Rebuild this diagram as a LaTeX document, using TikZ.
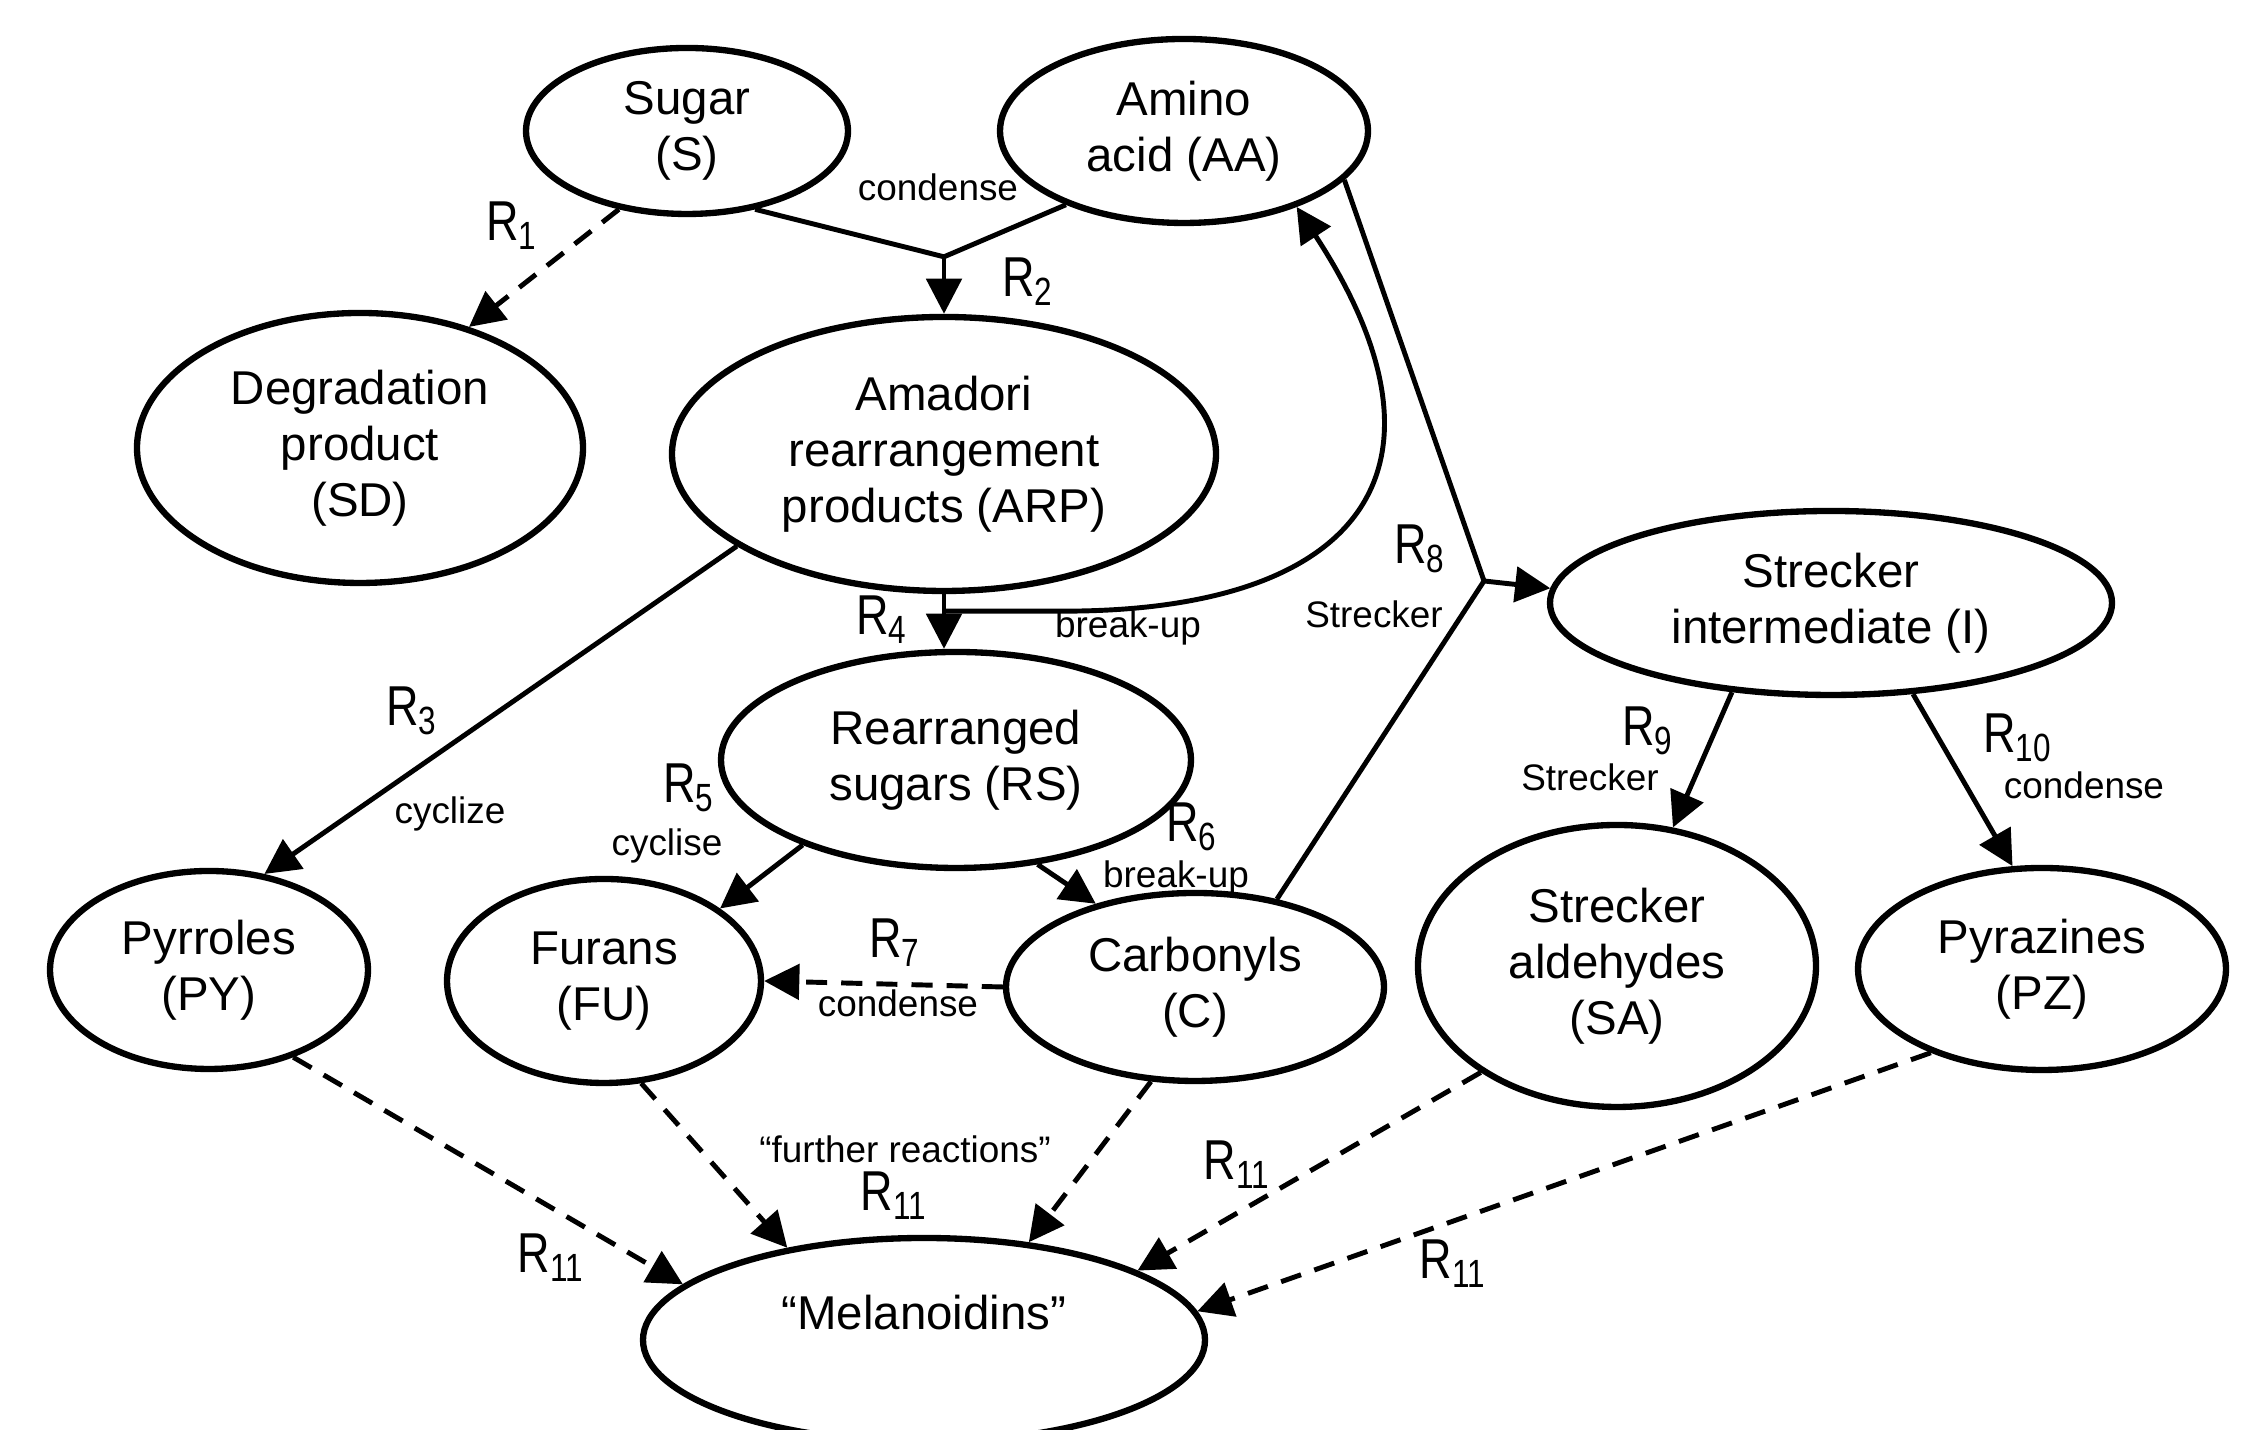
\documentclass[tikz,border=0pt]{standalone}
\usepackage{fontspec}
\setmainfont{Liberation Sans}
\newfontfamily\rfont[FakeStretch=0.8]{Liberation Sans}
\usepackage{tikz}
\usetikzlibrary{calc}
\usetikzlibrary{shapes.geometric}
\usetikzlibrary{arrows.meta,positioning}

\newcommand{\rxn}[1]{R\textsubscript{#1}}

\begin{document}
\begin{tikzpicture}[
  species/.style={ellipse,draw=black,line width=1.8pt,inner sep=0pt,align=center,font=\fontsize{13.5}{16}\selectfont},
  link/.style={line width=1.4pt},
  reac/.style={link,arrows=-{Triangle[length=10pt,width=10pt]}},
  reacd/.style={reac,dash pattern=on 6pt off 4pt},
  rlab/.style={font=\fontsize{16}{18}\rfont},
  notelab/.style={font=\fontsize{10.5}{12}\selectfont}
]

\coordinate (ORIGIN) at (0,0);
\useasboundingbox (ORIGIN) rectangle ++(22.6,14.3);
\clip (ORIGIN) rectangle ++(22.6,14.3);

%%%%%%%%%%%%%%%%%%%%%

%draw species
\node[species,minimum width=3.22cm,minimum height=1.66cm] at ($(ORIGIN)+(6.87,12.99)$) (SUGAR) {Sugar\\(S)};
\node[species,minimum width=3.68cm,minimum height=1.84cm] at ($(ORIGIN)+(11.84,12.99)$) (AMINO) {Amino\\acid (AA)};
\node[species,minimum width=4.46cm,minimum height=2.70cm] at ($(ORIGIN)+(3.60,9.82)$) (SD) {Degradation\\product\\(SD)};
\node[species,minimum width=5.44cm,minimum height=2.74cm] at ($(ORIGIN)+(9.44,9.76)$) (ARP) {Amadori\\rearrangement\\products (ARP)};
\node[species,minimum width=5.62cm,minimum height=1.84cm] at ($(ORIGIN)+(18.31,8.27)$) (INT) {Strecker\\intermediate (I)};
\node[species,minimum width=4.70cm,minimum height=2.16cm] at ($(ORIGIN)+(9.56,6.70)$) (RS) {Rearranged\\sugars (RS)};

%%%%%%%

%draw products
\node[species,minimum width=3.18cm,minimum height=1.98cm] at ($(ORIGIN)+(2.09,4.60)$) (PY) {Pyrroles\\(PY)};
\node[species,minimum width=3.14cm,minimum height=2.04cm] at ($(ORIGIN)+(6.04,4.49)$) (FU) {Furans\\(FU)};
\node[species,minimum width=3.78cm,minimum height=1.88cm] at ($(ORIGIN)+(11.95,4.43)$) (CARB) {Carbonyls\\(C)};
\node[species,minimum width=3.98cm,minimum height=2.82cm] at ($(ORIGIN)+(16.17,4.64)$) (SA) {Strecker\\aldehydes\\(SA)};
\node[species,minimum width=3.68cm,minimum height=2.02cm] at ($(ORIGIN)+(20.42,4.61)$) (PZ) {Pyrazines\\(PZ)};

\node[species,minimum width=5.62cm,minimum height=2.04cm] at ($(ORIGIN)+(9.24,0.90)$) (MEL) {};
\node[font=\fontsize{13.5}{16}\selectfont] at ($(MEL)+(0,0.27)$) (MELTXT) {“Melanoidins”};

%%%%%%%%%%%%%%%%%%%
%draw reactions

%R1
\draw[reacd] (SUGAR.229) -- (SD.48);
\node[rlab] at ($(ORIGIN)+(5.12,12.04)$) (LR1) {\rxn{1}};

%R2 sugar + amino acid
\coordinate (JR2) at ($(ARP.north)+(0,0.57)$);
\draw[link] (SUGAR.311) -- (JR2);
\draw[link] (AMINO.212) -- (JR2);
\draw[reac] (JR2) -- (ARP.north);
\node[notelab] at ($(ORIGIN)+(9.38,12.43)$) (CR2) {condense};
\node[rlab] at ($(ORIGIN)+(10.28,11.48)$) (LR2) {\rxn{2}};

%R3
\draw[reac] (ARP.204) -- (PY.60);
\node[rlab] at ($(ORIGIN)+(4.12,7.19)$) (LR3) {\rxn{3}};
\node[notelab] at ($(ORIGIN)+(4.50,6.16)$) (CR3) {cyclize};

%R4 and break-up back to amino acid
\draw[reac] (ARP.south) -- (ARP.south |- RS.north);
\coordinate (BRK) at ($(ARP.south)+(0,-0.17)$);
\coordinate (BRKA) at ($(BRK)+(1.2,0)$);
\draw[reac] (BRK) -- (BRKA) .. controls +(3.0,0) and +(1.7,-2.6) .. (AMINO.326);
\node[rlab] at ($(ORIGIN)+(8.82,8.10)$) (LR4) {\rxn{4}};
\node[notelab] at ($(ORIGIN)+(11.28,8.02)$) (CR4) {break-up};

%R5
\draw[reac] (RS.209) -- (FU.32);
\node[rlab] at ($(ORIGIN)+(6.89,6.42)$) (LR5) {\rxn{5}};
\node[notelab] at ($(ORIGIN)+(6.67,5.84)$) (CR5) {cyclise};

%R6
\draw[reac] (RS.308) -- (CARB.140);
\node[rlab] at ($(ORIGIN)+(11.92,6.03)$) (LR6) {\rxn{6}};
\node[notelab] at ($(ORIGIN)+(11.76,5.52)$) (CR6) {break-up};

%R7
\draw[reacd] (CARB.west) -- (FU.east);
\node[rlab] at ($(ORIGIN)+(8.95,4.87)$) (LR7) {\rxn{7}};
\node[notelab] at ($(ORIGIN)+(8.98,4.27)$) (CR7) {condense};

%R8 amino acid + carbonyls
\coordinate (JR8) at ($(ORIGIN)+(14.84,8.49)$);
\draw[link] (AMINO.343) -- (JR8);
\draw[link] (CARB.47) -- (JR8);
\draw[reac] (JR8) -- (INT.177);
\node[rlab] at ($(ORIGIN)+(14.20,8.81)$) (LR8) {\rxn{8}};
\node[notelab] at ($(ORIGIN)+(13.74,8.16)$) (CR8) {Strecker};

%R9
\draw[reac] (INT.222) -- (SA.68);
\node[rlab] at ($(ORIGIN)+(16.48,6.99)$) (LR9) {\rxn{9}};
\node[notelab] at ($(ORIGIN)+(15.90,6.53)$) (CR9) {Strecker};

%R10
\draw[reac] (INT.312) -- (PZ.106);
\node[rlab] at ($(ORIGIN)+(20.18,6.92)$) (LR10) {\rxn{10}};
\node[notelab] at ($(ORIGIN)+(20.84,6.45)$) (CR10) {condense};

%%%%%%%%%%%%%%%%%%%
%draw further reactions R11

\draw[reacd] (PY.314) -- (MEL.167);
\draw[reacd] (FU.290) -- (MEL.146);
\draw[reacd] (CARB.245) -- (MEL.43);
\draw[reacd] (SA.218) -- (MEL.18);
\draw[reacd] (PZ.217) -- (MEL.6);

\node[notelab] at ($(ORIGIN)+(9.05,2.81)$) (CR11) {“further reactions”};
\node[rlab] at ($(ORIGIN)+(8.94,2.34)$) (LR11A) {\rxn{11}};
\node[rlab] at ($(ORIGIN)+(5.51,1.72)$) (LR11B) {\rxn{11}};
\node[rlab] at ($(ORIGIN)+(12.37,2.65)$) (LR11C) {\rxn{11}};
\node[rlab] at ($(ORIGIN)+(14.53,1.66)$) (LR11D) {\rxn{11}};

%%%%%%%%%%%%%%%%%%%%%%

\end{tikzpicture}
\end{document}
